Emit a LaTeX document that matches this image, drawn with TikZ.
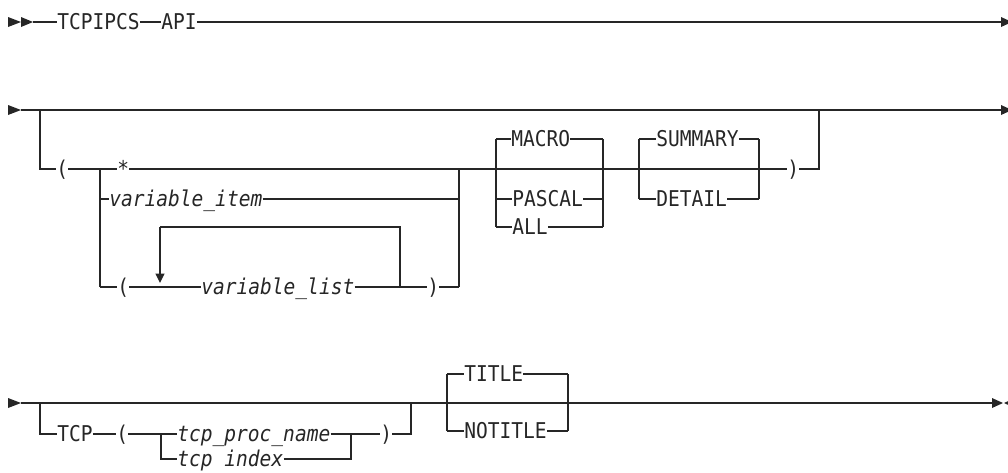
\documentclass[tikz,border=0pt]{standalone}
\usepackage{fontspec}
\setmonofont{DejaVu Sans Mono}[FakeStretch=0.9]
\usetikzlibrary{arrows.meta}
\definecolor{ink}{gray}{0.15}
\tikzset{
  rr/.style={draw=ink, line width=1.1pt},
  lbl/.style={inner sep=0pt, anchor=west, text=ink,
    font=\ttfamily\fontsize{16.3pt}{18pt}\selectfont,
    text height=11.9pt, text depth=0pt},
  ilbl/.style={lbl, font=\ttfamily\itshape\fontsize{16.3pt}{18pt}\selectfont},
  trimark/.style={fill=ink, draw=none}
}
\begin{document}
\begin{tikzpicture}[x=0.75pt,y=-0.75pt]
\useasboundingbox (0,0) rectangle (1008,472);

% ---------------- line 1
\coordinate (s1) at (33,22);
\coordinate (e1) at (1001,22);
\fill[trimark] (8,17) -- (21,22) -- (8,27) -- cycle;
\fill[trimark] (21,17) -- (33,22) -- (21,27) -- cycle;
\fill[trimark] (1001,17) -- (1012,22) -- (1001,27) -- cycle;
\node[lbl] (tcpipcs) at (57,22) {TCPIPCS};
\node[lbl] (api) at (161,22) {API};
\draw[rr] (s1) -- (tcpipcs);
\draw[rr] (tcpipcs) -- (api);
\draw[rr] (api) -- (e1);

% ---------------- line 2
\coordinate (s2) at (21,110);
\coordinate (e2) at (1001,110);
\fill[trimark] (8,105) -- (21,110) -- (8,115) -- cycle;
\fill[trimark] (1001,105) -- (1012,110) -- (1001,115) -- cycle;
\draw[rr] (s2) -- (e2);
\coordinate (b2) at (40,110);
\coordinate (b2e) at (819,110);
\node[lbl] (lp1) at (56,169) {(};
\draw[rr] (b2) |- (lp1);
\coordinate (j1) at (100,169);
\coordinate (j1b) at (100,287);
\node[lbl] (star) at (117,169) {*};
\node[ilbl] (vitem) at (109,199) {variable\_item};
\node[lbl] (lp2) at (117,287) {(};
\node[ilbl] (vlist) at (201,287) {variable\_list};
\node[lbl] (rp2) at (427,287) {)};
\coordinate (j2) at (459,169);
\coordinate (j2b) at (459,199);
\coordinate (j2c) at (459,287);
\coordinate (L1) at (400,287);
\coordinate (lpA) at (160,227);
\coordinate (lpT) at (160,283);
\draw[rr] (lp1) -- (star);
\draw[rr] (j1) -- (j1b);
\draw[rr] (j1) |- (vitem);
\draw[rr] (vitem) -- (j2b);
\draw[rr] (j1b) -- (lp2);
\draw[rr] (lp2) -- (vlist);
\draw[rr] (vlist) -- (rp2);
\draw[rr] (rp2) -- (j2c);
\draw[rr] (j2c) -- (j2);
\draw[rr] (L1) |- (lpA);
\draw[rr, -{Triangle[length=7pt,width=6.5pt]}] (lpA) -- (lpT);

% MACRO group
\coordinate (mt) at (496,139);
\coordinate (mp) at (496,199);
\coordinate (mb) at (496,227);
\coordinate (mtr) at (603,139);
\coordinate (mpr) at (603,199);
\coordinate (mbr) at (603,227);
\node[lbl] (macro) at (511,139) {MACRO};
\node[lbl] (pascal) at (512,199) {PASCAL};
\node[lbl] (all) at (512,227) {ALL};
\draw[rr] (mt) -- (mb);
\draw[rr] (mtr) -- (mbr);
\draw[rr] (mt) -- (macro);
\draw[rr] (macro) -- (mtr);
\draw[rr] (mp) -- (pascal);
\draw[rr] (pascal) -- (mpr);
\draw[rr] (mb) -- (all);
\draw[rr] (all) -- (mbr);

% SUMMARY group
\coordinate (st) at (639,139);
\coordinate (sb) at (639,199);
\coordinate (str) at (759,139);
\coordinate (sbr) at (759,199);
\node[lbl] (summary) at (656,139) {SUMMARY};
\node[lbl] (detail) at (656,199) {DETAIL};
\draw[rr] (st) -- (sb);
\draw[rr] (str) -- (sbr);
\draw[rr] (st) -- (summary);
\draw[rr] (summary) -- (str);
\draw[rr] (sb) -- (detail);
\draw[rr] (detail) -- (sbr);

\node[lbl] (rp1) at (787,169) {)};
\draw[rr] (star) -- (rp1);
\draw[rr] (rp1) -| (b2e);

% ---------------- line 3
\coordinate (s3) at (21,403);
\coordinate (e3) at (992,403);
\fill[trimark] (8,398) -- (21,403) -- (8,408) -- cycle;
\fill[trimark] (992,398) -- (1003,403) -- (992,408) -- cycle;
\fill[trimark] (1015,398) -- (1004,403) -- (1015,408) -- cycle;
\draw[rr] (s3) -- (e3);
\coordinate (b3) at (40,403);
\coordinate (b3e) at (411,403);
\node[lbl] (tcp) at (57,434) {TCP};
\node[lbl] (lp3) at (116,434) {(};
\node[ilbl] (tpn) at (177,434) {tcp\_proc\_name};
\node[ilbl] (tidx) at (177,459) {tcp index};
\node[lbl] (rp3) at (380,434) {)};
\coordinate (j3) at (161,434);
\coordinate (j4) at (351,434);
\draw[rr] (b3) |- (tcp);
\draw[rr] (tcp) -- (lp3);
\draw[rr] (lp3) -- (tpn);
\draw[rr] (j3) |- (tidx);
\draw[rr] (tidx) -| (j4);
\draw[rr] (tpn) -- (rp3);
\draw[rr] (rp3) -| (b3e);

% TITLE group
\coordinate (tt) at (447,374);
\coordinate (tb) at (447,431);
\coordinate (ttr) at (568,374);
\coordinate (tbr) at (568,431);
\node[lbl] (title) at (464,374) {TITLE};
\node[lbl] (notitle) at (464,431) {NOTITLE};
\draw[rr] (tt) -- (tb);
\draw[rr] (ttr) -- (tbr);
\draw[rr] (tt) -- (title);
\draw[rr] (title) -- (ttr);
\draw[rr] (tb) -- (notitle);
\draw[rr] (notitle) -- (tbr);
\coordinate (d1) at (573,403);
\coordinate (d2) at (597,403);
\draw[draw=ink, line width=1.6pt] (d1) -- (d2);
\end{tikzpicture}
\end{document}
